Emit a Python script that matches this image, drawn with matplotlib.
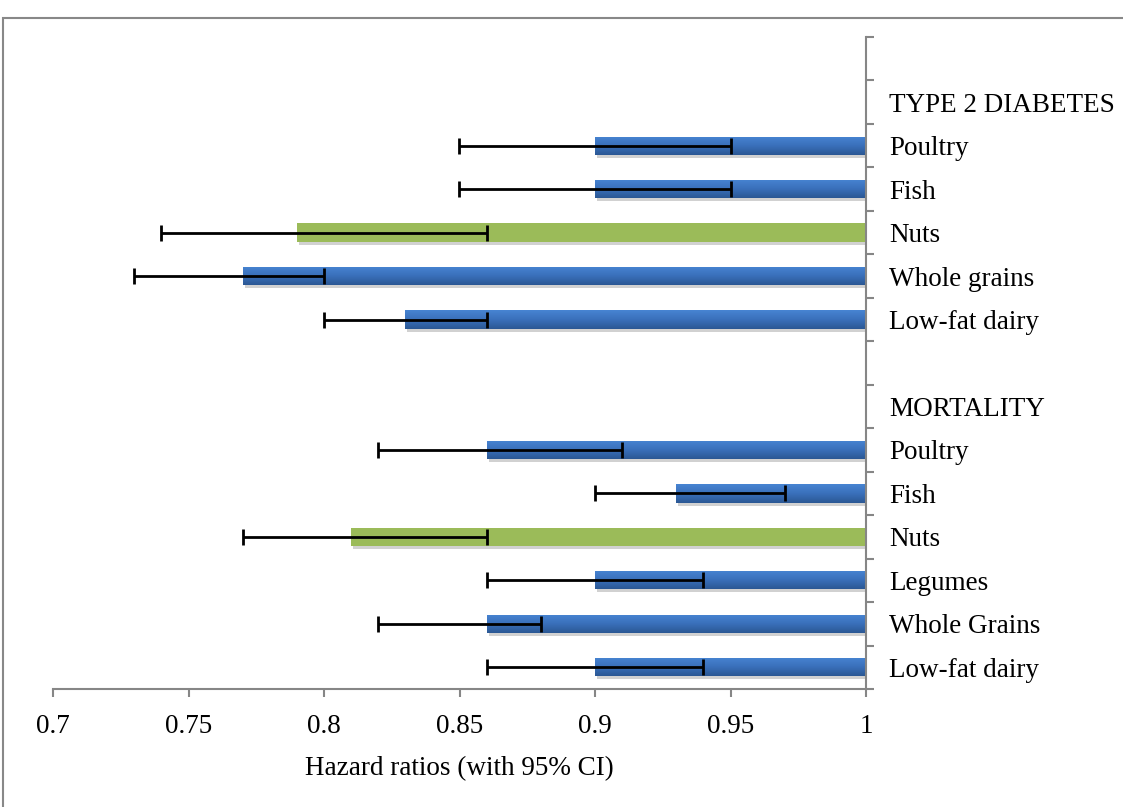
import matplotlib
matplotlib.use("Agg")
import matplotlib.pyplot as plt
import numpy as np
from matplotlib.patches import Rectangle
from matplotlib.colors import LinearSegmentedColormap
import matplotlib.transforms as mtransforms

plt.rcParams['font.family'] = ['Liberation Serif', 'DejaVu Serif']

# Categories listed bottom to top
labels = ["Low-fat dairy", "Whole Grains", "Legumes", "Nuts", "Fish", "Poultry",
          "MORTALITY", "",
          "Low-fat dairy", "Whole grains", "Nuts", "Fish", "Poultry",
          "TYPE 2 DIABETES", ""]
hr = [0.90, 0.86, 0.90, 0.81, 0.93, 0.86,
      None, None,
      0.83, 0.77, 0.79, 0.90, 0.90,
      None, None]
ci_low = [0.86, 0.82, 0.86, 0.77, 0.90, 0.82,
          None, None,
          0.80, 0.73, 0.74, 0.85, 0.85,
          None, None]
ci_high = [0.94, 0.88, 0.94, 0.86, 0.97, 0.91,
           None, None,
           0.86, 0.80, 0.86, 0.95, 0.95,
           None, None]
is_nuts = [False, False, False, True, False, False,
           False, False,
           False, False, True, False, False,
           False, False]
xticks = [0.7, 0.75, 0.8, 0.85, 0.9, 0.95, 1.0]
xticklabels = ["0.7", "0.75", "0.8", "0.85", "0.9", "0.95", "1"]

W, H = 1123, 807
fig = plt.figure(figsize=(W/100, H/100), dpi=100)
ax = fig.add_axes([53/W, (H-689)/H, (866-53)/W, (689-37)/H])

blue_cmap = LinearSegmentedColormap.from_list("b", ["#2b5894", "#3a70bb", "#4784d2"])
green = "#9bbb59"
bar_h = 0.42
grad = np.linspace(0, 1, 64).reshape(-1, 1)
FS = 19.5

for i, v in enumerate(hr):
    if v is None:
        continue
    # shadow
    shadow_off = mtransforms.offset_copy(ax.transData, fig=fig, x=2, y=-3, units='dots')
    ax.barh(i, 1.0 - v, left=v, height=bar_h, color="#000000", alpha=0.18,
            transform=shadow_off, zorder=1, linewidth=0)
    if is_nuts[i]:
        ax.barh(i, 1.0 - v, left=v, height=bar_h, color=green, zorder=2, linewidth=0)
    else:
        b = ax.barh(i, 1.0 - v, left=v, height=bar_h, color="#3a6fb8", zorder=2, linewidth=0)
        patch = b.patches[0]
        im = ax.imshow(grad, cmap=blue_cmap, aspect='auto',
                       extent=[v, 1.0, i - bar_h/2, i + bar_h/2], origin='lower', zorder=2.5)
        im.set_clip_path(patch)
    ax.errorbar([(ci_low[i] + ci_high[i]) / 2], [i],
                xerr=[[(ci_high[i] - ci_low[i]) / 2], [(ci_high[i] - ci_low[i]) / 2]],
                fmt='none', ecolor='black', elinewidth=2, capsize=6, capthick=2, zorder=4)

ax.set_xlim(0.7, 1.0)
ax.set_ylim(-0.5, len(labels) - 0.5)

axis_col = "#868686"
for s in ["left", "top"]:
    ax.spines[s].set_visible(False)
for s in ["right", "bottom"]:
    ax.spines[s].set_color(axis_col)
    ax.spines[s].set_linewidth(1.5)

ax.set_xticks(xticks)
ax.set_xticklabels(xticklabels, fontsize=FS)
ax.tick_params(axis='x', direction='out', length=6, width=1.5, color=axis_col, pad=12)

ax.yaxis.tick_right()
ax.set_yticks(range(len(labels)))
ax.set_yticklabels(labels, fontsize=FS)
ax.set_yticks(np.arange(-0.5, len(labels), 1.0), minor=True)
ax.tick_params(axis='y', which='major', length=0, pad=16.5)
ax.tick_params(axis='y', which='minor', direction='out', length=6, width=1.5, color=axis_col)
for t in ax.get_yticklabels():
    t.set_horizontalalignment('left')

ax.set_xlabel("Hazard ratios (with 95% CI)", fontsize=FS, labelpad=12)

# outer frame
fig.patches.append(Rectangle((3/W, -0.05), 1.2, (H-18)/H + 0.05, transform=fig.transFigure,
                             fill=False, edgecolor="#888888", linewidth=1.5))

fig.savefig("out.png", dpi=100)
